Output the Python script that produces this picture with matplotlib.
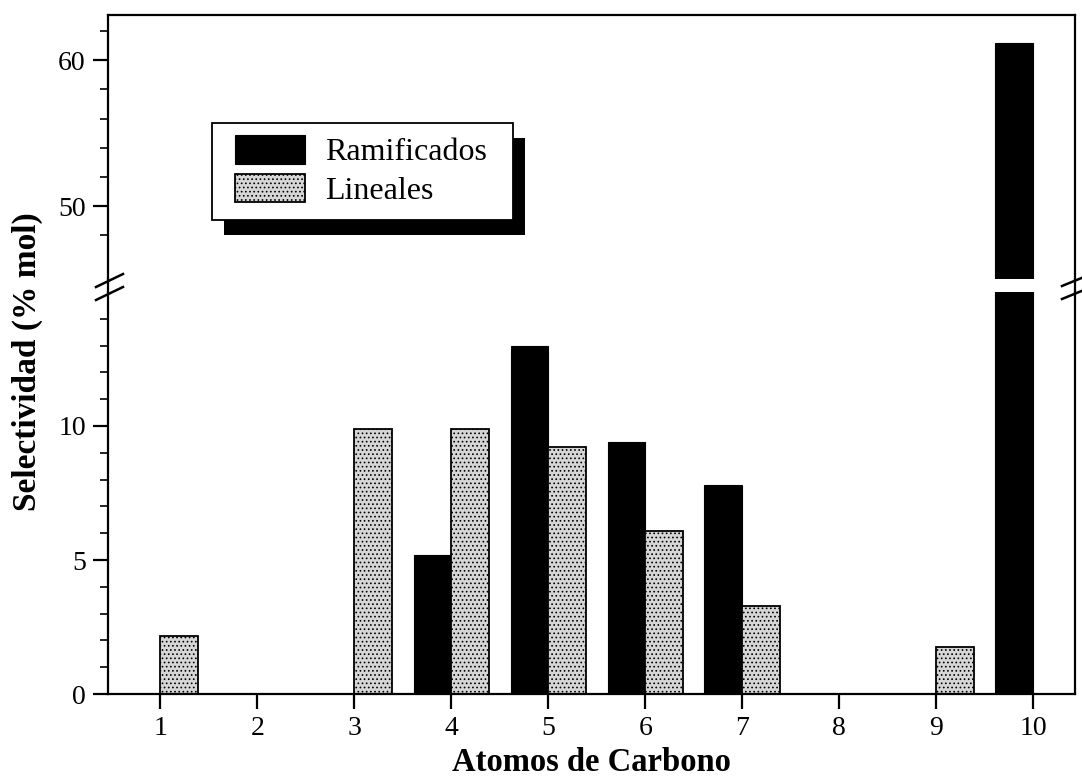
import numpy as np
import matplotlib
matplotlib.use("Agg")
import matplotlib.pyplot as plt
from matplotlib.ticker import FixedLocator
from matplotlib.lines import Line2D
from matplotlib.patches import Rectangle
from matplotlib.transforms import IdentityTransform

plt.rcParams['font.family'] = 'serif'
plt.rcParams['font.serif'] = ['Liberation Serif', 'DejaVu Serif']
plt.rcParams['hatch.linewidth'] = 0.7

# data
carbonos = [1, 2, 3, 4, 5, 6, 7, 8, 9, 10]
ramificados = [0, 0, 0, 5.2, 13.0, 9.4, 7.8, 0, 0, 61.2]
lineales = [2.15, 0, 9.9, 9.9, 9.2, 6.1, 3.3, 0, 1.75, 0]
yticks_lo = [0, 5, 10]
yminor_lo = [1, 2, 3, 4, 6, 7, 8, 9, 11, 12, 13, 14]
yticks_hi = [50, 60]
yminor_hi = [48, 52, 54, 56, 58, 62]

W, H = 1082, 780
def fx(x):
    return x / W
def fy(y):
    return 1 - y / H

fig = plt.figure(figsize=(W / 100, H / 100), dpi=100)
left, right = 108, 1075
ax_lo = fig.add_axes([fx(left), fy(694), fx(right - left), (694 - 292) / H])
ax_hi = fig.add_axes([fx(left), fy(279), fx(right - left), (279 - 15) / H], sharex=ax_lo)

w = 0.39
x = np.array(carbonos)
for ax in (ax_lo, ax_hi):
    ax.bar(x, ramificados, width=-w, align='edge', color='black',
           edgecolor='black', linewidth=0.8, label='Ramificados')
    ax.bar(x, lineales, width=w, align='edge', color='#d6d6d6',
           edgecolor='black', linewidth=1.3, hatch='....', label='Lineales')
    for s in ax.spines.values():
        s.set_linewidth(1.6)
    ax.tick_params(axis='both', which='major', direction='out', length=11,
                   width=1.6, labelsize=20, pad=5)
    ax.tick_params(axis='y', which='minor', direction='out', length=6, width=1.2)

ax_lo.set_ylim(0, 15)
ax_hi.set_ylim(45, 63.1)
ax_lo.set_xlim(0.46, 10.43)
ax_lo.set_xticks(carbonos)
ax_lo.yaxis.set_major_locator(FixedLocator(yticks_lo))
ax_lo.yaxis.set_minor_locator(FixedLocator(yminor_lo))
ax_hi.yaxis.set_major_locator(FixedLocator(yticks_hi))
ax_hi.yaxis.set_minor_locator(FixedLocator(yminor_hi))
ax_lo.spines['top'].set_visible(False)
ax_hi.spines['bottom'].set_visible(False)
ax_hi.tick_params(axis='x', which='both', bottom=False, labelbottom=False)

ax_lo.set_xlabel('Atomos de Carbono', fontsize=23.5, fontweight='bold', labelpad=4)
fig.text(fx(27), fy(362), 'Selectividad (% mol)', rotation=90,
         fontsize=24, fontweight='bold', ha='center', va='center')

# axis break: continuous spines with double slashes
for xs in (left, right):
    fig.add_artist(Line2D([fx(xs), fx(xs)], [fy(279), fy(292)], color='black', lw=1.6))
for dy in (0, 13):
    fig.add_artist(Line2D([fx(96), fx(123)], [fy(287 + dy), fy(274 + dy)], color='black', lw=1.8))
    fig.add_artist(Line2D([fx(1062), fx(1084)], [fy(286 + dy), fy(277 + dy)], color='black', lw=1.8))

# legend: entries without frame, frame and solid shadow drawn behind them
handles, labels = ax_hi.get_legend_handles_labels()
leg = ax_hi.legend(handles, labels, loc='upper left',
                   bbox_to_anchor=(fx(235), fy(135)), bbox_transform=fig.transFigure,
                   fontsize=23, frameon=False, borderaxespad=0, borderpad=0,
                   handlelength=2.2, handleheight=1.0, handletextpad=0.62,
                   labelspacing=0.2)
leg.set_zorder(7)
box = dict(x=212, y=123, w=301, h=97)
ax_hi.add_patch(Rectangle((box['x'] + 12, H - box['y'] - box['h'] - 15), box['w'], box['h'],
                          transform=IdentityTransform(), facecolor='black',
                          edgecolor='none', zorder=5, clip_on=False))
ax_hi.add_patch(Rectangle((box['x'], H - box['y'] - box['h']), box['w'], box['h'],
                          transform=IdentityTransform(), facecolor='white',
                          edgecolor='black', linewidth=1.3, zorder=6, clip_on=False))
ax_hi.set_ylim(45, 63.1)
ax_lo.set_xlim(0.46, 10.43)

fig.savefig('out.png', dpi=100)
